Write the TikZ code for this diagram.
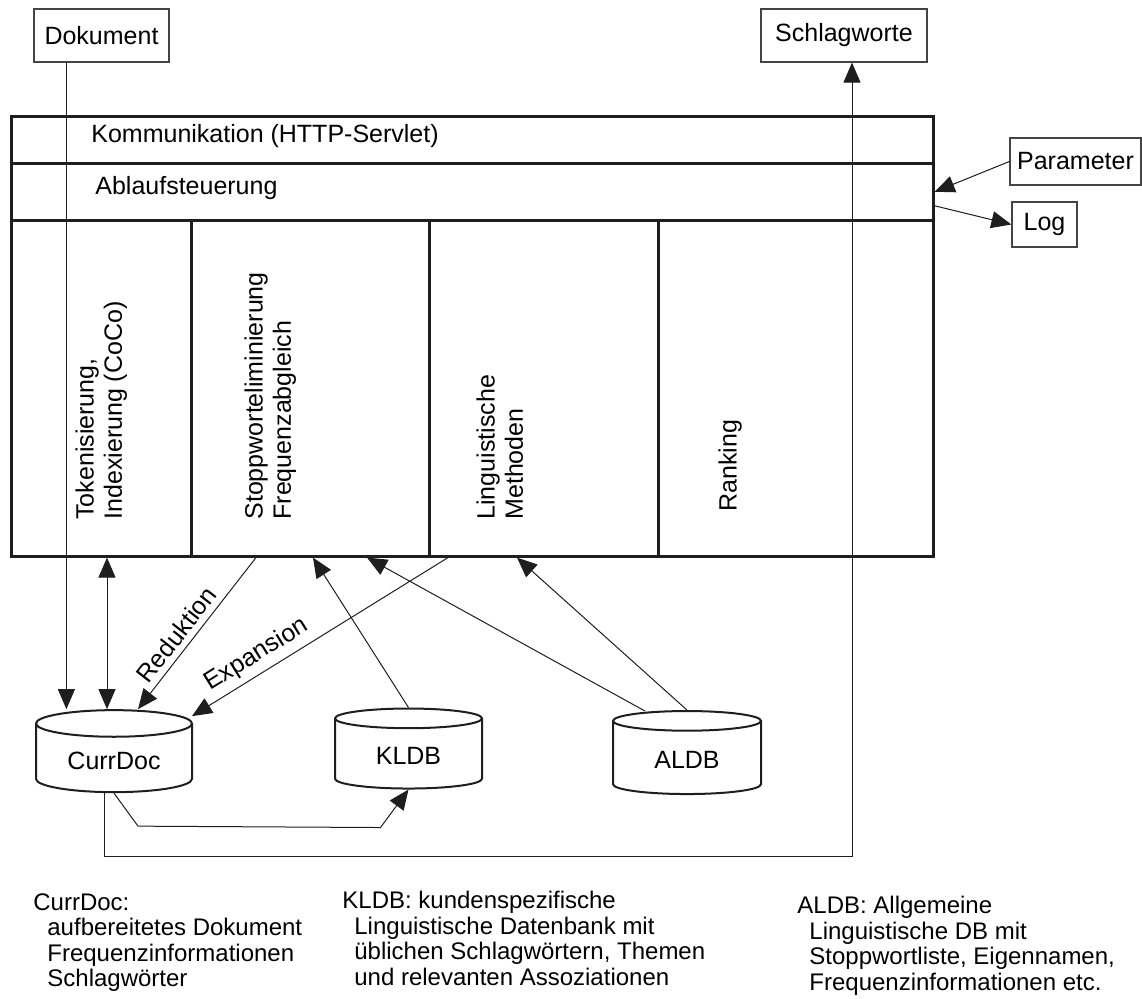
\documentclass[tikz,border=0pt]{standalone}
\usepackage{fontspec}
\setmainfont{Liberation Sans}
\usepackage{xcolor}
\usepackage{tikz}
\usetikzlibrary{positioning, arrows.meta, calc, shapes.geometric}
\definecolor{linegray}{HTML}{1E1E1E}
\definecolor{boxgray}{HTML}{444444}

\begin{document}
\begin{tikzpicture}[x=0.5pt, y=-0.5pt,
    font=\fontsize{12.5}{14.2}\selectfont,
    spitze/.tip={Triangle[length=10pt, width=8.5pt]},
    kasten/.style={draw=boxgray, line width=0.6pt, inner sep=0pt},
    feld/.style={draw=linegray, line width=1.3pt, inner sep=0pt, anchor=north west},
    senkrecht/.style={rotate=90, anchor=north west, inner sep=0pt, align=left},
    datenbank/.style={cylinder, shape border rotate=90, aspect=0.25, draw=linegray, line width=1pt},
    pfeil/.style={draw=linegray, line width=0.5pt, -spitze},
    legende/.style={anchor=north west, inner sep=0pt, align=left, font=\fontsize{12}{12.8}\selectfont}]
    \useasboundingbox (0,0) rectangle (1142,999);

    % Eingabe, Ausgabe
    \node[kasten, minimum width=67.5pt, minimum height=26.5pt] (dok) at (101.5,35.5) {Dokument};
    \node[kasten, minimum width=83pt, minimum height=26.5pt] (schlag) at (844,35.5) {Schlagworte};
    \node[kasten, minimum width=65.5pt, minimum height=23.5pt] (param) at (1075.5,161.5) {Parameter};
    \node[kasten, minimum width=32.5pt, minimum height=22.5pt] (log) at (1044.5,224.5) {Log};

    % Servlet
    \node[feld, minimum width=461pt, minimum height=23.5pt] (komm) at (10,115) {};
    \node[feld, minimum width=461pt, minimum height=28.5pt] (ablauf) at (10,162) {};
    \node[feld, minimum width=90pt, minimum height=168pt] (tok) at (10,219) {};
    \node[feld, minimum width=119pt, minimum height=168pt] (stop) at (190,219) {};
    \node[feld, minimum width=114.5pt, minimum height=168pt] (ling) at (428,219) {};
    \node[feld, minimum width=137.5pt, minimum height=168pt] (rank) at (657,219) {};

    \node[anchor=base west, inner sep=0pt] (kommtext) at (91,143) {Kommunikation (HTTP-Servlet)};
    \node[anchor=base west, inner sep=0pt] (ablauftext) at (95,195) {Ablaufsteuerung};
    \node[senkrecht] (toktext) at (75,520) {Tokenisierung,\\Indexierung (CoCo)};
    \node[senkrecht] (stoptext) at (244,520) {Stoppworteliminierung\\Frequenzabgleich};
    \node[senkrecht] (lingtext) at (476,520) {Linguistische\\Methoden};
    \node[senkrecht] (ranktext) at (718,512) {Ranking};

    % Datenbanken
    \node[datenbank, minimum width=78pt, minimum height=41pt] (cur) at (114,761) {CurrDoc};
    \node[datenbank, minimum width=73.5pt, minimum height=40pt] (kl) at (408.5,756) {KLDB};
    \node[datenbank, minimum width=74pt, minimum height=41.5pt] (al) at (687,760) {ALDB};

    % Verbindungen
    \draw[pfeil] ($(dok.south west)+(33,0)$) coordinate (dokfuss) -- (dokfuss |- cur.north);
    \draw[pfeil, spitze-spitze] ($(tok.south west)+(97,0)$) coordinate (tokfuss) -- (tokfuss |- cur.north);
    \draw[pfeil, spitze-] ($(cur.north)+(24,0)$) -- ($(stop.south west)+(66,0)$)
        node[sloped, above, pos=0.43, inner sep=3pt] {Reduktion};
    \draw[pfeil, spitze-] ($(cur.north)+(78,7)$) -- ($(ling.south west)+(20,0)$)
        node[sloped, above, pos=0.29, inner sep=3pt] {Expansion};
    \draw[pfeil] (kl.north) -- ($(stop.south west)+(123,0)$);
    \draw[pfeil] ($(al.north)+(-42,1)$) -- ($(stop.south west)+(177,0)$);
    \draw[pfeil] (al.north) -- ($(ling.south west)+(89,0)$);
    \draw[pfeil] (cur.south) -- ++(24,33) -- ($(kl.south)+(-28,38)$) -- (kl.south);
    \draw[pfeil] ($(cur.south)+(-10,0)$) -- ++(0,63) -| ($(schlag.south)+(8,0)$);
    \draw[pfeil] (param.west) -- (ablauf.east);
    \draw[pfeil] ($(ablauf.east)+(0,14)$) -- (log.west);

    % Legende
    \node[legende] (curleg) at (33,893) {CurrDoc:\\\hspace*{7pt}aufbereitetes Dokument\\\hspace*{7pt}Frequenzinformationen\\\hspace*{7pt}Schlagw\"orter};
    \node[legende] (klleg) at (342,891) {KLDB: kundenspezifische\\\hspace*{6pt}Linguistische Datenbank mit\\\hspace*{6pt}\"ublichen Schlagw\"ortern, Themen\\\hspace*{6pt}und relevanten Assoziationen};
    \node[legende] (alleg) at (797,896) {ALDB: Allgemeine\\\hspace*{6pt}Linguistische DB mit\\\hspace*{6pt}Stoppwortliste, Eigennamen,\\\hspace*{6pt}Frequenzinformationen etc.};
\end{tikzpicture}
\end{document}
